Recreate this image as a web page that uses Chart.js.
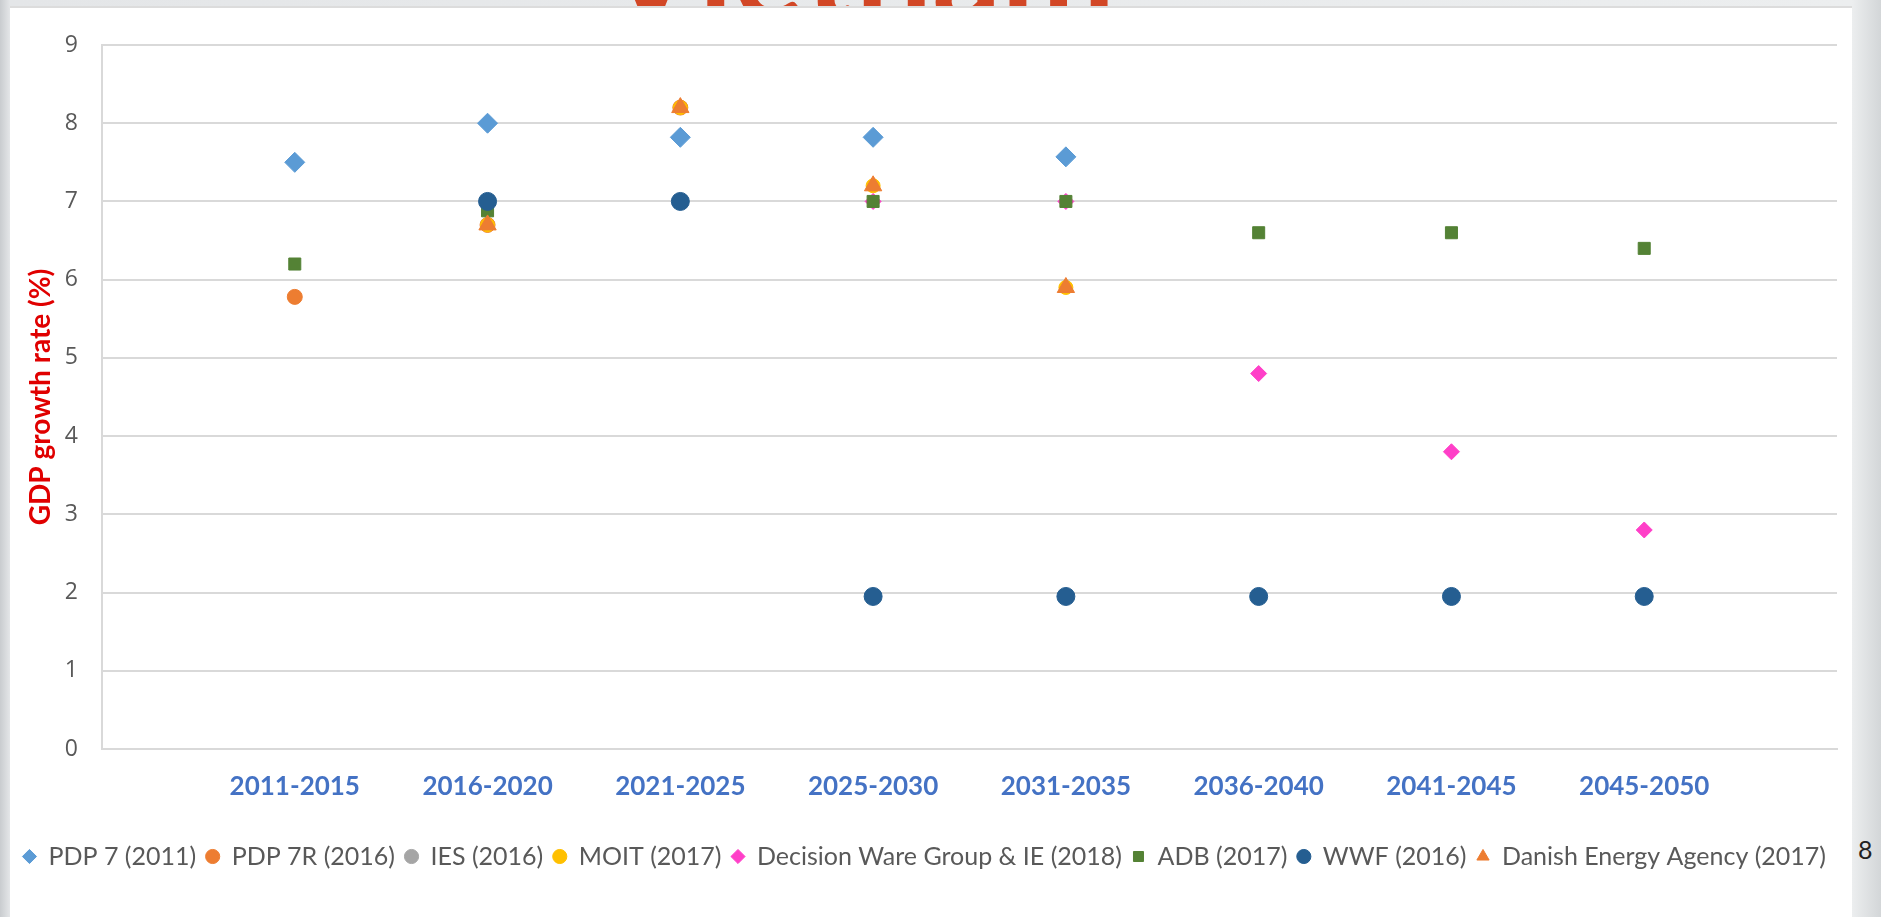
<!DOCTYPE html>
<html lang="en">
<head>
<meta charset="UTF-8">
<title>GDP growth rate scenarios - Vietnam</title>
<script src="https://cdn.jsdelivr.net/npm/chart.js@4.4.1/dist/chart.umd.min.js"></script>
<style>
    html, body { margin: 0; padding: 0; }
    body { width: 1881px; height: 917px; overflow: hidden; position: relative;
           background: linear-gradient(90deg, #c9cccf 0px, #e4e6e8 10px, #eceeef 1852px, #d3d6d8 1881px); }
    #panel { position: absolute; left: 10px; top: 6px; width: 1842px; height: 911px; background: #fff;
             border-top: 2px solid #dcdcdc; }
    #heading { position: absolute; left: 0; top: 0; width: 1881px; height: 6px; overflow: hidden; }
    #heading span { position: absolute; left: 604px; bottom: -30px; font: bold 136px Lato, sans-serif; color: #d24726; line-height: 1; }
    #page-no { position: absolute; left: 1858px; top: 834px; font: 25px Lato, sans-serif; color: #222; }
    canvas { position: absolute; left: 0; top: 0; }
</style>
</head>
<body>
<div id="heading"><span>Vietnam</span></div>
<div id="panel"></div>
<div id="page-no">8</div>
<canvas id="chart" width="1881" height="917"></canvas>
<script>
    // periods sit at x = 1..8 on a 0..9 axis, like the original scatter plot
    const periods = ['2011-2015', '2016-2020', '2021-2025', '2025-2030', '2031-2035', '2036-2040', '2041-2045', '2045-2050'];

    const pdp7_2011     = [7.5, 8.0, 7.82, 7.82, 7.57, null, null, null];
    const pdp7r_2016    = [5.78, 6.7, 8.2, null, null, null, null, null];
    const ies_2016      = [null, 7.0, 7.0, null, null, null, null, null];
    const moit_2017     = [null, 6.7, 8.2, 7.2, 5.9, null, null, null];
    const decisionWare  = [null, null, null, 7.0, 7.0, 4.8, 3.8, 2.8];
    const adb_2017      = [6.2, 6.88, 7.0, 7.0, 7.0, 6.6, 6.6, 6.4];
    const wwf_2016      = [null, 7.0, 7.0, 1.95, 1.95, 1.95, 1.95, 1.95];
    const danish_2017   = [null, 6.7, 8.2, 7.2, 5.9, null, null, null];

    const yTicks = [0, 1, 2, 3, 4, 5, 6, 7, 8, 9];

    function toPoints(values) {
        return values.map((v, i) => ({ x: i + 1, y: v })).filter(p => p.y !== null);
    }

    const series = [
        { label: 'PDP 7 (2011)', values: pdp7_2011, color: '#5b9bd5', style: 'rectRot', r: 10 },
        { label: 'PDP 7R (2016)', values: pdp7r_2016, color: '#ed7d31', style: 'circle', r: 7.5 },
        { label: 'IES (2016)', values: ies_2016, color: '#a5a5a5', style: 'circle', r: 7 },
        { label: 'MOIT (2017)', values: moit_2017, color: '#ffc000', style: 'circle', r: 7 },
        { label: 'Decision Ware Group & IE (2018)', values: decisionWare, color: '#ff3fc8', style: 'rectRot', r: 8 },
        { label: 'ADB (2017)', values: adb_2017, color: '#548235', style: 'rect', r: 8.5 },
        { label: 'WWF (2016)', values: wwf_2016, color: '#255e91', style: 'circle', r: 9 },
        { label: 'Danish Energy Agency (2017)', values: danish_2017, color: '#ed7d31', style: 'triangle', r: 10 }
    ];

    // later series are painted on top, as in the source chart
    const datasets = series.map((s, i) => ({
        label: s.label,
        data: toPoints(s.values),
        backgroundColor: s.color,
        borderColor: s.color,
        borderWidth: 1,
        pointStyle: s.style,
        pointRadius: s.r,
        pointHoverRadius: s.r,
        showLine: false,
        order: series.length - i
    }));

    new Chart(document.getElementById('chart'), {
        type: 'scatter',
        data: { datasets },
        options: {
            responsive: false,
            devicePixelRatio: 1,
            animation: false,
            layout: { padding: { left: 12, right: 44, top: 45, bottom: 38 } },
            plugins: {
                tooltip: { enabled: false },
                legend: {
                    position: 'bottom',
                    labels: {
                        usePointStyle: true,
                        boxWidth: 13,
                        boxHeight: 10,
                        padding: 10,
                        color: '#595959',
                        font: { family: 'Lato', size: 25 },
                        sort: (a, b) => a.datasetIndex - b.datasetIndex
                    }
                }
            },
            scales: {
                x: {
                    type: 'linear',
                    min: 0,
                    max: 9,
                    afterFit(scale) { scale.height = 85; },
                    afterBuildTicks(scale) { scale.ticks = periods.map((p, i) => ({ value: i + 1 })); },
                    ticks: {
                        autoSkip: false,
                        maxRotation: 0,
                        padding: 22,
                        color: '#4472c4',
                        font: { family: 'Lato', size: 26, weight: 'bold' },
                        callback: v => periods[v - 1] || ''
                    },
                    grid: { display: false, drawTicks: false },
                    border: { display: true, color: '#d9d9d9', width: 2 }
                },
                y: {
                    min: 0,
                    max: 9,
                    afterFit(scale) { scale.width = 90; },
                    afterBuildTicks(scale) { scale.ticks = yTicks.map(v => ({ value: v })); },
                    ticks: {
                        padding: 24,
                        color: '#595959',
                        font: { family: 'Open Sans', size: 23 }
                    },
                    grid: { color: '#d9d9d9', lineWidth: 2, drawTicks: false },
                    border: { display: true, color: '#d9d9d9', width: 2 },
                    title: {
                        display: true,
                        text: 'GDP growth rate (%)',
                        color: '#e00000',
                        padding: { top: 12, bottom: 0 },
                        font: { family: 'Lato', size: 28, weight: 'bold' }
                    }
                }
            }
        }
    });
</script>
</body>
</html>
